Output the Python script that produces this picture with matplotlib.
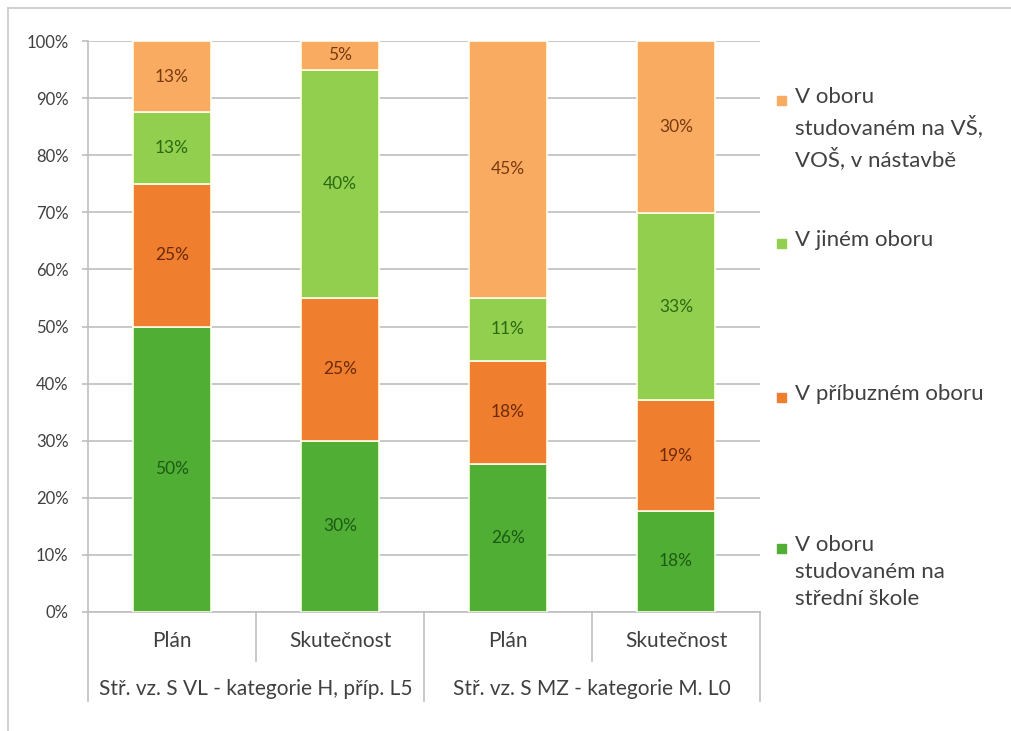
import numpy as np
import matplotlib
matplotlib.use('Agg')
import matplotlib.pyplot as plt
from matplotlib.patches import Rectangle

plt.rcParams['font.family'] = ['Lato', 'DejaVu Sans']

# Categories (inner level and outer group level)
bars = ['Plán', 'Skutečnost', 'Plán', 'Skutečnost']
groups = ['Stř. vz. S VL - kategorie H, příp. L5', 'Stř. vz. S MZ - kategorie M. L0']

# Series values in percent, bottom to top
stredni = [50.0, 30.0, 26.0, 17.7]
pribuzny = [25.0, 25.0, 18.0, 19.4]
jiny = [12.5, 40.0, 11.0, 32.8]
vs_vos = [12.5, 5.0, 45.0, 30.1]

series_names = ['V oboru\nstudovaném na\nstřední škole',
                'V příbuzném oboru',
                'V jiném oboru',
                'V oboru\nstudovaném na VŠ,\nVOŠ, v nástavbě']
colors = ['#4FAE33', '#EF7E2F', '#92CF4F', '#F9AC61']
text_colors = ['#1E5A14', '#6B2A08', '#2A6A10', '#7A3A10']

W, H = 1011, 731
fig = plt.figure(figsize=(W / 100, H / 100), dpi=100)
ax = fig.add_axes([88 / W, (H - 612) / H, (760 - 88) / W, (612 - 41) / H])

x = np.arange(len(bars))
bottom = np.zeros(len(bars))
for vals, c, tc in zip([stredni, pribuzny, jiny, vs_vos], colors, text_colors):
    vals = np.array(vals)
    ax.bar(x, vals, bottom=bottom, width=0.47, color=c, edgecolor='#FFFDE8',
           linewidth=1.2, zorder=3)
    for xi, b, v in zip(x, bottom, vals):
        ax.text(xi, b + v / 2, f'{int(v + 0.5)}%', ha='center', va='center',
                fontsize=12.5, color=tc, zorder=4)
    bottom += vals

ax.set_xlim(-0.5, len(bars) - 0.5)
ax.set_ylim(0, 100)
ax.set_yticks(np.arange(0, 101, 10))
ax.set_yticklabels([f'{v}%' for v in range(0, 101, 10)], fontsize=12, color='#404040')
ax.yaxis.grid(True, color='#BFBFBF', linewidth=1.2, zorder=0)
ax.tick_params(axis='y', length=4, width=1.2, color='#BFBFBF', pad=10)
ax.tick_params(axis='x', length=0)
ax.set_xticks([])
for s in ['top', 'right']:
    ax.spines[s].set_visible(False)
for s in ['bottom', 'left']:
    ax.spines[s].set_color('#BFBFBF')
    ax.spines[s].set_linewidth(1.2)

# two-level category axis
trans = ax.get_xaxis_transform()
for xi, lab in zip(x, bars):
    ax.text(xi, -0.05, lab, transform=trans, ha='center', va='center',
            fontsize=15, color='#404040')
for gi, lab in enumerate(groups):
    ax.text(gi * 2 + 0.5, -0.135, lab, transform=trans, ha='center', va='center',
            fontsize=15, color='#404040')
for xb in np.arange(-0.5, len(bars), 1.0):
    outer = (xb + 0.5) % 2 == 0
    ax.plot([xb, xb], [0, -0.155 if outer else -0.085], transform=trans,
            color='#BFBFBF', linewidth=1.2, clip_on=False)

# legend placed like the original, top entry first
legend_y = [100, 243, 397, 548]
for name, c, ly in zip(series_names[::-1], colors[::-1], legend_y):
    fig.patches.append(Rectangle((777 / W, 1 - (ly + 5) / H), 9 / W, 9 / H,
                                 transform=fig.transFigure, color=c))
    fig.text(795 / W, 1 - (ly - 13) / H, name, ha='left', va='top',
             fontsize=16, color='#404040', linespacing=1.45)

# chart frame
fig.add_artist(plt.Line2D([8 / W, 8 / W], [0, 1 - 8 / H], color='#C8C8C8', lw=1.2))
fig.add_artist(plt.Line2D([8 / W, 1], [1 - 8 / H, 1 - 8 / H], color='#C8C8C8', lw=1.2))

fig.savefig('out.png', dpi=100)
